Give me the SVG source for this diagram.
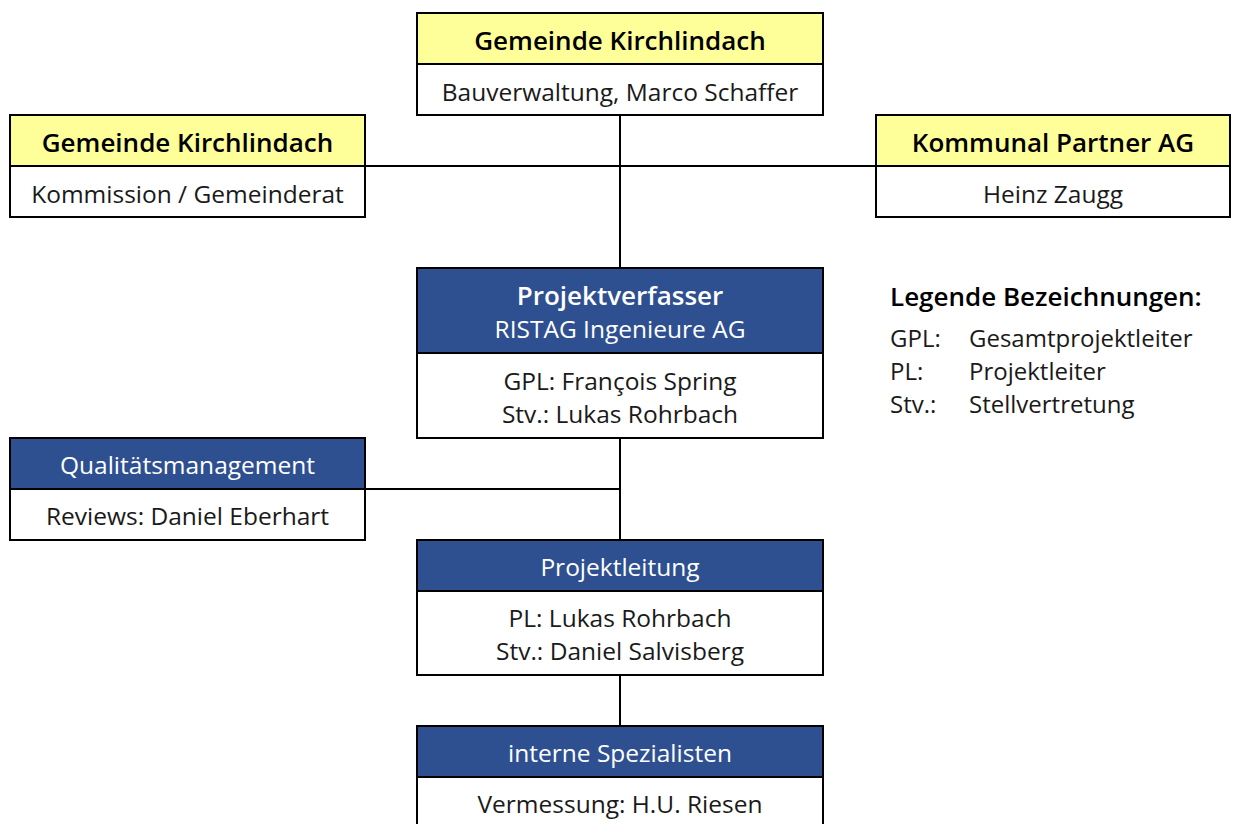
<svg xmlns="http://www.w3.org/2000/svg" width="1234" height="824" viewBox="0 0 1234 824">
<style>
.box{fill:#fff;stroke:#000;stroke-width:2}
.y{fill:#ffff99;stroke:#000;stroke-width:2}
.b{fill:#2e5090;stroke:#000;stroke-width:2}
.ln{stroke:#000;stroke-width:2;fill:none}
text{font-family:"Open Sans","Noto Sans","Liberation Sans",sans-serif;font-size:24.5px;text-anchor:middle}
.hb{font-weight:600;fill:#000;font-size:26px}
.hw{fill:#fff}
.hwb{fill:#fff;font-weight:600;font-size:26px}
.t{fill:#1a1a1a}
.lg{text-anchor:start;fill:#1a1a1a;font-size:24px}
</style>
<rect width="1234" height="824" fill="#fff"/>
<g id="connectors">
<line class="ln" x1="620" y1="115" x2="620" y2="268"/>
<line class="ln" x1="365" y1="166" x2="876" y2="166"/>
<line class="ln" x1="620" y1="438" x2="620" y2="540"/>
<line class="ln" x1="365" y1="489" x2="620" y2="489"/>
<line class="ln" x1="620" y1="675" x2="620" y2="726"/>
</g>
<g id="gemeinde-bau">
<rect class="y" x="417" y="13" width="406" height="51"/>
<rect class="box" x="417" y="64" width="406" height="51"/>
<text class="hb" x="620" y="50">Gemeinde Kirchlindach</text>
<text class="t" x="620" y="101">Bauverwaltung, Marco Schaffer</text>
</g>
<g id="gemeinde-kommission">
<rect class="y" x="10" y="115" width="355" height="51"/>
<rect class="box" x="10" y="166" width="355" height="51"/>
<text class="hb" x="187.5" y="152">Gemeinde Kirchlindach</text>
<text class="t" x="187.5" y="203">Kommission / Gemeinderat</text>
</g>
<g id="kommunal">
<rect class="y" x="876" y="115" width="354" height="51"/>
<rect class="box" x="876" y="166" width="354" height="51"/>
<text class="hb" x="1053" y="152">Kommunal Partner AG</text>
<text class="t" x="1053" y="203">Heinz Zaugg</text>
</g>
<g id="projektverfasser">
<rect class="b" x="417" y="268" width="406" height="85"/>
<rect class="box" x="417" y="353" width="406" height="85"/>
<text class="hwb" x="620" y="305">Projektverfasser</text>
<text class="hw" x="620" y="338">RISTAG Ingenieure AG</text>
<text class="t" x="620" y="390">GPL: François Spring</text>
<text class="t" x="620" y="423">Stv.: Lukas Rohrbach</text>
</g>
<g id="qualitaet">
<rect class="b" x="10" y="438" width="355" height="51"/>
<rect class="box" x="10" y="489" width="355" height="51"/>
<text class="hw" x="187.5" y="474">Qualitätsmanagement</text>
<text class="t" x="187.5" y="525">Reviews: Daniel Eberhart</text>
</g>
<g id="projektleitung">
<rect class="b" x="417" y="540" width="406" height="51"/>
<rect class="box" x="417" y="591" width="406" height="84"/>
<text class="hw" x="620" y="576">Projektleitung</text>
<text class="t" x="620" y="627">PL: Lukas Rohrbach</text>
<text class="t" x="620" y="660">Stv.: Daniel Salvisberg</text>
</g>
<g id="spezialisten">
<rect class="b" x="417" y="726" width="406" height="51"/>
<rect class="box" x="417" y="777" width="406" height="60"/>
<text class="hw" x="620" y="762">interne Spezialisten</text>
<text class="t" x="620" y="813">Vermessung: H.U. Riesen</text>
</g>
<g id="legende">
<text class="lg" x="890" y="306" style="font-weight:600;fill:#000;font-size:26px">Legende Bezeichnungen:</text>
<text class="lg" x="890" y="347">GPL:</text>
<text class="lg" x="969" y="347">Gesamtprojektleiter</text>
<text class="lg" x="890" y="380">PL:</text>
<text class="lg" x="969" y="380">Projektleiter</text>
<text class="lg" x="890" y="413">Stv.:</text>
<text class="lg" x="969" y="413">Stellvertretung</text>
</g>
</svg>
